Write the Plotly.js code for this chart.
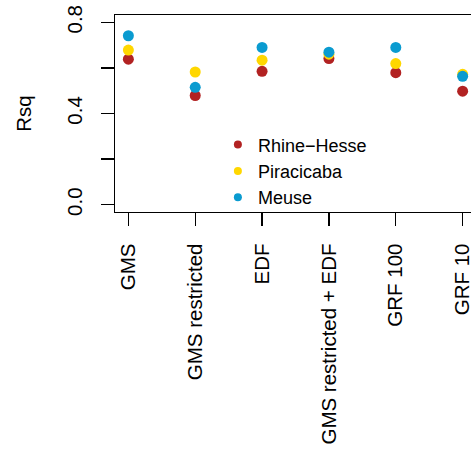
<!DOCTYPE html>
<html><head><meta charset="utf-8">
<script src="https://cdn.plot.ly/plotly-3.0.1.min.js"></script>
<style>html,body{margin:0;padding:0;overflow:hidden;background:#fff;width:471px;height:455px}</style>
</head><body><div id="chart"></div>
<script>
const methods = ["GMS", "GMS restricted", "EDF", "GMS restricted + EDF", "GRF 100", "GRF 10"];
const rhineHesse = [0.638, 0.479, 0.585, 0.641, 0.579, 0.498];
const piracicaba = [0.678, 0.582, 0.634, 0.660, 0.619, 0.572];
const meuse      = [0.741, 0.515, 0.690, 0.669, 0.690, 0.563];
const seriesNames = ["Rhine\u2212Hesse", "Piracicaba", "Meuse"];
const colors = ["#B22222", "#FFD700", "#0A9BD0"];
const yTicks = [0, 0.2, 0.4, 0.6, 0.8];
const yTickText = ["0.0", "", "0.4", "", "0.8"];

const seriesVals = [rhineHesse, piracicaba, meuse];
const traces = [];
seriesVals.forEach((vals, i) => {
  traces.push({type:"scatter", mode:"markers", x: methods, y: vals, name: seriesNames[i],
    legendgroup: "g"+i, showlegend:false, marker:{color:colors[i], size:11}, cliponaxis:false});
});
seriesVals.forEach((vals, i) => {
  traces.push({type:"scatter", mode:"markers", x:[null], y:[null], name: seriesNames[i],
    legendgroup: "g"+i, showlegend:true, marker:{color:colors[i], size:8}});
});

const font = {family:"Liberation Sans, Arial, sans-serif", color:"#000", size:20.5};
const layout = {
  width: 480, height: 455,
  margin: {l:115, r:4, t:15, b:243},
  paper_bgcolor:"#fff", plot_bgcolor:"#fff",
  font: font,
  showlegend: true,
  legend: {x:0.285, xanchor:"left", y:0.435, yanchor:"top", font:{family:font.family, size:18, color:"#000"},
    bgcolor:"rgba(0,0,0,0)", tracegroupgap:0, itemsizing:"trace"},
  xaxis: {type:"category", range:[-0.2, 5.2], showgrid:false, zeroline:false,
    showline:true, mirror:true, linecolor:"#000", linewidth:1.3,
    ticks:"outside", ticklen:13, tickwidth:1.3, tickcolor:"#000", tickangle:-90,
    ticklabelstandoff:9, tickfont:{size:20.5}},
  yaxis: {range:[-0.032, 0.832], showgrid:false, zeroline:false,
    showline:true, mirror:true, linecolor:"#000", linewidth:1.3,
    ticks:"outside", ticklen:13, tickwidth:1.3, tickcolor:"#000", tickangle:-90,
    tickvals: yTicks, ticktext: yTickText, ticklabelstandoff:11, tickfont:{size:20.5},
    title:{text:"Rsq", standoff:25, font:{size:20.5}}}
};
Plotly.newPlot("chart", traces, layout, {staticPlot:true, displayModeBar:false});
</script></body></html>
